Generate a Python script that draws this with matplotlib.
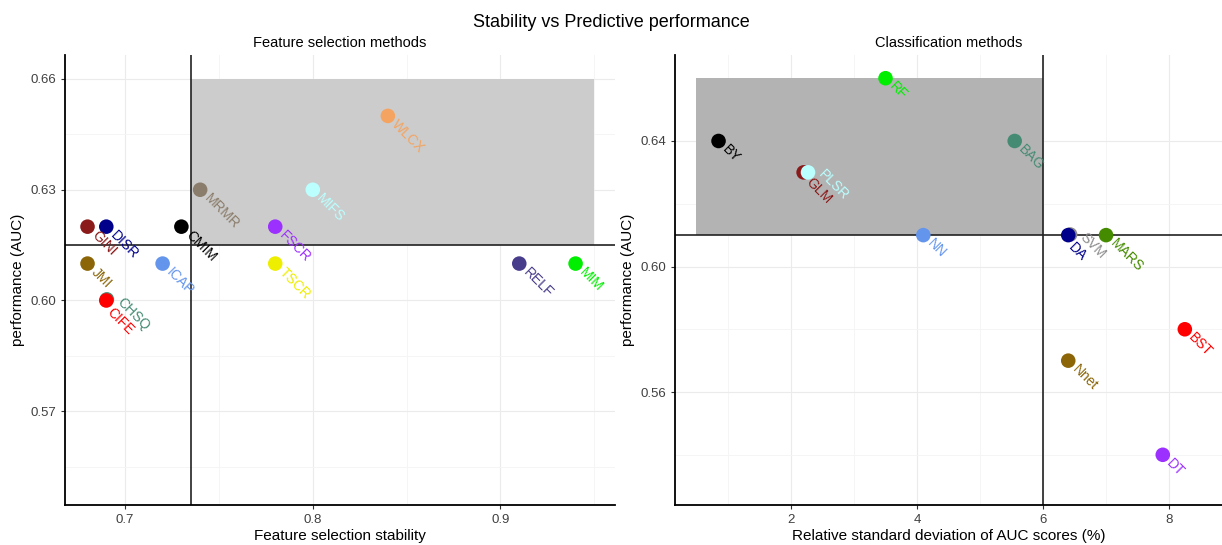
import matplotlib
matplotlib.use('Agg')
import matplotlib.pyplot as plt

plt.rcParams['font.family'] = ['Liberation Sans', 'DejaVu Sans']

# feature selection methods
fs_names = ['GINI', 'DISR', 'JMI', 'CMIM', 'ICAP', 'MRMR', 'FSCR', 'TSCR',
            'MIFS', 'WLCX', 'RELF', 'MIM', 'CHSQ', 'CIFE']
fs_stability = [0.68, 0.69, 0.68, 0.73, 0.72, 0.74, 0.78, 0.78,
                0.80, 0.84, 0.91, 0.94, 0.6903, 0.69]
fs_auc = [0.62, 0.62, 0.61, 0.62, 0.61, 0.63, 0.62, 0.61,
          0.63, 0.65, 0.61, 0.61, 0.6003, 0.60]
fs_colors = ['#8B1A1A', '#00008B', '#8B6508', '#000000', '#6495ED', '#8B7D6B',
             '#9B30FF', '#EEEE00', '#BBFFFF', '#F4A460', '#483D8B', '#00EE00',
             '#458B74', '#FF0000']
fs_vline = 0.735
fs_hline = 0.615
fs_box = (0.735, 0.95, 0.615, 0.66)

# classification methods
cl_names = ['RF', 'BY', 'BAG', 'GLM', 'PLSR', 'NN', 'SVM', 'DA', 'MARS',
            'BST', 'Nnet', 'DT']
cl_rsd = [3.5, 0.85, 5.55, 2.2, 2.27, 4.1, 6.43, 6.4, 7.0, 8.25, 6.4, 7.9]
cl_auc = [0.66, 0.64, 0.64, 0.63, 0.63, 0.61, 0.6102, 0.61, 0.61, 0.58, 0.57, 0.54]
cl_colors = ['#00EE00', '#000000', '#458B74', '#8B1A1A', '#BBFFFF', '#6495ED',
             '#8C8C8C', '#00008B', '#458B00', '#FF0000', '#8B6508', '#9B30FF']
cl_vline = 6
cl_hline = 0.61
cl_box = (0.5, 6, 0.61, 0.66)

# sideways nudge (points, up-right positive) for labels that would overlap
label_shift = {'CIFE': -4, 'CHSQ': 6, 'GLM': -2, 'PLSR': 7, 'DA': -4, 'SVM': 6}

fig = plt.figure(figsize=(12.22, 5.45), dpi=100)
fig.suptitle('Stability vs Predictive performance', fontsize=13, y=0.975)

ax1 = fig.add_axes([65/1222, 40/545, 550/1222, 450/545])
ax2 = fig.add_axes([675/1222, 40/545, 547/1222, 450/545])


def panel(ax, x, y, names, colors, box, vline, hline, xlim, ylim,
          xticks, yticks, xminor, yminor, shade, title, xlabel, ylabel):
    ax.set_xlim(*xlim)
    ax.set_ylim(*ylim)
    ax.set_xticks(xticks)
    ax.set_yticks(yticks)
    ax.set_xticks(xminor, minor=True)
    ax.set_yticks(yminor, minor=True)
    ax.grid(True, which='major', color='#EBEBEB', lw=0.8)
    ax.grid(True, which='minor', color='#F4F4F4', lw=0.6)
    ax.set_axisbelow(True)
    ax.tick_params(which='minor', length=0)
    ax.tick_params(which='major', length=3, color='#333333', labelsize=9.5,
                   labelcolor='#404040')
    for s in ['top', 'right']:
        ax.spines[s].set_visible(False)
    for s in ['left', 'bottom']:
        ax.spines[s].set_linewidth(1.3)
    ax.fill_between([box[0], box[1]], box[2], box[3], color=shade, lw=0, zorder=1)
    ax.axvline(vline, color='#222222', lw=1.2, zorder=2)
    ax.axhline(hline, color='#222222', lw=1.2, zorder=2)
    ax.scatter(x, y, s=110, c=colors, zorder=3, lw=0)
    for xi, yi, n, c in zip(x, y, names, colors):
        s = label_shift.get(n, 0) * 0.7071
        ax.annotate(n, (xi, yi), xytext=(4.5 + s, -4.5 + s),
                    textcoords='offset points',
                    rotation=-45, rotation_mode='anchor', ha='left', va='center',
                    color=c, fontsize=10, zorder=4)
    ax.set_title(title, fontsize=10.5, pad=6)
    ax.set_xlabel(xlabel, fontsize=11, labelpad=2)
    ax.set_ylabel(ylabel, fontsize=11)


panel(ax1, fs_stability, fs_auc, fs_names, fs_colors, fs_box, fs_vline, fs_hline,
      (0.668, 0.961), (0.5446, 0.6665),
      [0.7, 0.8, 0.9], [0.57, 0.60, 0.63, 0.66],
      [0.75, 0.85, 0.95], [0.555, 0.585, 0.615, 0.645],
      '#CCCCCC', 'Feature selection methods', 'Feature selection stability',
      'performance (AUC)')
ax1.set_xticklabels(['0.7', '0.8', '0.9'])
ax1.set_yticklabels(['0.57', '0.60', '0.63', '0.66'])

panel(ax2, cl_rsd, cl_auc, cl_names, cl_colors, cl_box, cl_vline, cl_hline,
      (0.159, 8.84), (0.524, 0.6674),
      [2, 4, 6, 8], [0.56, 0.60, 0.64],
      [1, 3, 5, 7], [0.54, 0.58, 0.62],
      '#B3B3B3', 'Classification methods',
      'Relative standard deviation of AUC scores (%)', 'performance (AUC)')
ax2.set_yticklabels(['0.56', '0.60', '0.64'])

fig.savefig('out.png', dpi=100)
